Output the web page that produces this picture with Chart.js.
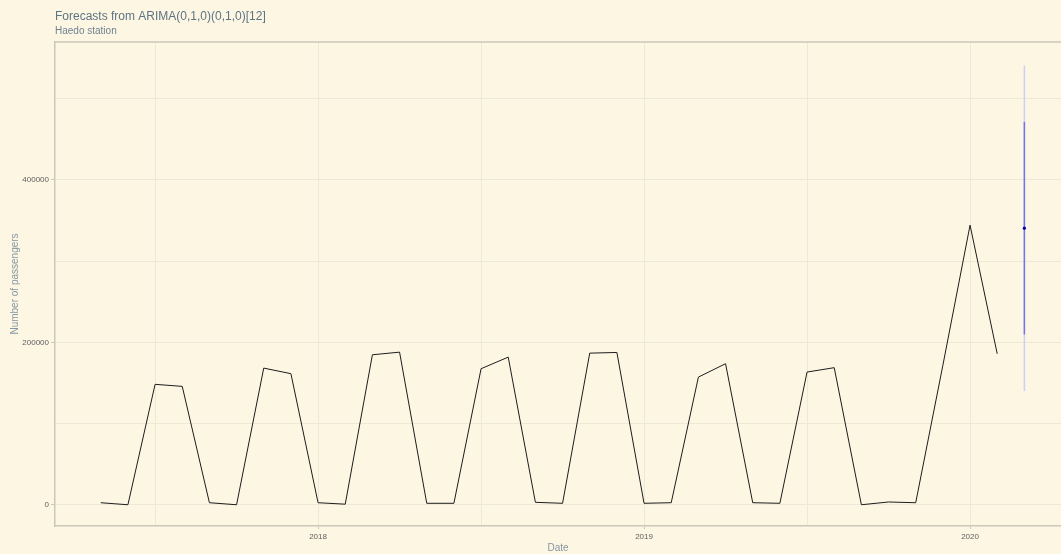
<!DOCTYPE html>
<html>
<head>
<meta charset="utf-8">
<title>Haedo station forecast</title>
<script src="https://cdn.jsdelivr.net/npm/chart.js@4.4.1/dist/chart.umd.min.js"></script>
<style>
  html, body { margin: 0; padding: 0; background: #fdf6e3; }
  #wrap { width: 1061px; height: 554px; }
  canvas { display: block; }
</style>
</head>
<body>
<div id="wrap"><canvas id="chart" width="1061" height="554"></canvas></div>
<script>
// Monthly passengers, Haedo station (May 2017 – Feb 2020)
const months = [
  '2017-05','2017-06','2017-07','2017-08','2017-09','2017-10','2017-11','2017-12',
  '2018-01','2018-02','2018-03','2018-04','2018-05','2018-06','2018-07','2018-08',
  '2018-09','2018-10','2018-11','2018-12',
  '2019-01','2019-02','2019-03','2019-04','2019-05','2019-06','2019-07','2019-08',
  '2019-09','2019-10','2019-11','2019-12',
  '2020-01','2020-02'
];
const passengers = [
  2800, 300, 148500, 146000, 2800, 300, 168500, 161600,
  2800, 1000, 184900, 188100, 2100, 2100, 167700, 182000,
  3300, 2100, 186900, 187700,
  2100, 2800, 157400, 173900, 2800, 2100, 163600, 169000,
  300, 3700, 2800, 172000,
  344400, 186100
];

// One-step forecast with 80% and 95% prediction intervals
const forecastMonth = '2020-03';
const forecastMean = 340700;
const lower80 = 209800, upper80 = 471500;
const lower95 = 140200, upper95 = 541000;

// Axis ticks: gridlines every half step, labels on the whole ones
const xTickValues = [2017.5, 2018, 2018.5, 2019, 2019.5, 2020];
const yTickValues = [0, 100000, 200000, 300000, 400000, 500000];
const yTickLabels = [0, 200000, 400000];

// "YYYY-MM" -> decimal year, as a ts() time index
function toTime(m) {
  const [y, mo] = m.split('-').map(Number);
  return y + (mo - 1) / 12;
}

const history = months.map((m, i) => ({ x: toTime(m), y: passengers[i] }));
const fx = toTime(forecastMonth);

const GRID = '#eee8d7';
const AXIS = '#cbc7ba';
const TICK_TEXT = '#5e5e5e';
const TITLE_TEXT = '#5d7484';
const AXIS_TITLE = '#8597a2';

Chart.defaults.font.family = "'Liberation Sans', Arial, sans-serif";

const panelTopBorder = {
  id: 'panelTopBorder',
  afterDraw(chart) {
    const { ctx, chartArea: a } = chart;
    ctx.save();
    ctx.strokeStyle = AXIS;
    ctx.lineWidth = 1.5;
    ctx.beginPath();
    ctx.moveTo(a.left, a.top);
    ctx.lineTo(a.right, a.top);
    ctx.stroke();
    ctx.restore();
  }
};

new Chart(document.getElementById('chart'), {
  type: 'line',
  data: {
    datasets: [
      {
        label: 'Point forecast',
        data: [{ x: fx, y: forecastMean }],
        showLine: false,
        pointRadius: 1.6,
        pointHoverRadius: 0,
        pointBackgroundColor: '#0000a8',
        pointBorderWidth: 0
      },
      {
        label: '80%',
        data: [{ x: fx, y: lower80 }, { x: fx, y: upper80 }],
        borderColor: '#7474ec',
        borderWidth: 1.5,
        pointRadius: 0,
        pointHoverRadius: 0
      },
      {
        label: '95%',
        data: [{ x: fx, y: lower95 }, { x: fx, y: upper95 }],
        borderColor: '#cfcff6',
        borderWidth: 1.5,
        pointRadius: 0,
        pointHoverRadius: 0
      },
      {
        label: 'Passengers',
        data: history,
        borderColor: '#1c1c1c',
        borderWidth: 1,
        pointRadius: 0,
        pointHoverRadius: 0,
        tension: 0
      }
    ]
  },
  options: {
    responsive: false,
    animation: false,
    events: [],
    layout: { padding: 0, autoPadding: false },
    plugins: {
      legend: { display: false },
      tooltip: { enabled: false },
      title: {
        display: true,
        text: 'Forecasts from ARIMA(0,1,0)(0,1,0)[12]',
        align: 'start',
        fullSize: false,
        color: TITLE_TEXT,
        font: { size: 12, weight: 'normal' },
        padding: { top: 9, bottom: 2 }
      },
      subtitle: {
        display: true,
        text: 'Haedo station',
        align: 'start',
        fullSize: false,
        color: '#6d8391',
        font: { size: 10, weight: 'normal' },
        padding: { top: 0, bottom: 4.6 }
      }
    },
    scales: {
      x: {
        type: 'linear',
        min: 2017.193,
        max: 2020.279,
        afterBuildTicks: s => { s.ticks = xTickValues.map(v => ({ value: v })); },
        afterFit: s => { s.height = 28; s.paddingLeft = 0; s.paddingRight = 0; },
        grid: {
          color: GRID,
          lineWidth: 1,
          tickLength: 3,
          tickColor: ctx => Number.isInteger(ctx.tick.value) ? AXIS : 'rgba(0,0,0,0)'
        },
        border: { color: AXIS, width: 1.5 },
        ticks: {
          autoSkip: false,
          maxRotation: 0,
          padding: 3,
          color: TICK_TEXT,
          font: { size: 8 },
          callback: v => Number.isInteger(v) ? String(v) : ''
        },
        title: {
          display: true,
          text: 'Date',
          color: AXIS_TITLE,
          font: { size: 10 },
          padding: { top: 0, bottom: 0 }
        }
      },
      y: {
        type: 'linear',
        min: -25850,
        max: 569800,
        afterBuildTicks: s => { s.ticks = yTickValues.map(v => ({ value: v })); },
        afterFit: s => { s.width = 55; s.paddingTop = 0; s.paddingBottom = 0; },
        grid: {
          color: GRID,
          lineWidth: 1,
          tickLength: 4,
          tickColor: ctx => yTickLabels.includes(ctx.tick.value) ? AXIS : 'rgba(0,0,0,0)'
        },
        border: { color: AXIS, width: 1.5 },
        ticks: {
          autoSkip: false,
          padding: 2,
          color: TICK_TEXT,
          font: { size: 8 },
          callback: v => yTickLabels.includes(v) ? String(v) : ''
        },
        title: {
          display: true,
          text: 'Number of passengers',
          color: AXIS_TITLE,
          font: { size: 10 },
          padding: { top: 9, bottom: 0 }
        }
      }
    }
  },
  plugins: [panelTopBorder]
});
</script>
</body>
</html>
